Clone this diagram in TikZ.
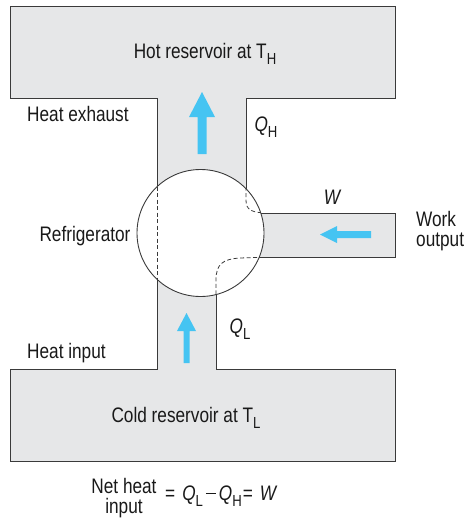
\documentclass[tikz,border=0pt]{standalone}
\usepackage{fontspec}
\setmainfont{Liberation Sans}[FakeStretch=0.82]
\definecolor{boxgray}{HTML}{E6E7E8}
\definecolor{linegray}{HTML}{3A3A3A}
\definecolor{flowblue}{HTML}{45C4F2}
\newcommand\lsub[1]{\raisebox{-0.28em}{\fontsize{16}{16}\selectfont #1}}
\begin{document}
\begin{tikzpicture}[x=1pt,y=-1pt,
  outl/.style={draw=linegray, line width=0.9pt},
  hid/.style={draw=linegray, line width=0.8pt, dash pattern=on 4pt off 2.5pt},
  flow/.style={fill=flowblue},
  lbl/.style={font=\fontsize{21}{19.5}\selectfont, inner sep=0pt, text=black!90}]
\useasboundingbox (0,0) rectangle (469,520);
% gray body
\fill[boxgray] (10,6) rectangle (395,98);
\fill[boxgray] (157,98) rectangle (246,233);
\fill[boxgray] (200,213) rectangle (395,257);
\fill[boxgray] (157,233) rectangle (216,369);
\fill[boxgray] (10,369) rectangle (395,461);
% outlines
\draw[outl] (157,233) -- (157,98) -- (10,98) -- (10,6) -- (395,6) -- (395,98) -- (246,98) -- (246,200);
\draw[outl] (230,213) -- (395,213) -- (395,257) -- (230,257);
\draw[outl] (216,270) -- (216,369) -- (395,369) -- (395,461) -- (10,461) -- (10,369) -- (157,369) -- (157,233);
% refrigerator circle
\coordinate (c) at (200.5,233);
\fill[white] (c) circle (63.5);
\begin{scope}
\clip (c) circle (63.5);
\draw[hid] (157,180) -- (157,290);
\draw[hid] (246,180) -- (246,200) .. controls (246,210) and (251,213) .. (270,213);
\draw[hid] (270,257) -- (240,258) .. controls (223,259) and (216,264) .. (216,280) -- (216,300);
\end{scope}
\draw[outl] (c) circle (63.5);
% flow arrows
\fill[flowblue] (197.5,154) -- (197.5,117) -- (189,117) -- (202,92) -- (215,117) -- (206.5,117) -- (206.5,154) -- cycle;
\fill[flowblue] (183.5,363) -- (183.5,331) -- (177,331) -- (186.5,313) -- (196,331) -- (189.5,331) -- (189.5,363) -- cycle;
\fill[flowblue] (371,231) -- (337,231) -- (337,226) -- (320,234.5) -- (337,243) -- (337,238) -- (371,238) -- cycle;
% labels
\node[lbl] (hot) at (205,54) {Hot reservoir at T\lsub{H}};
\node[lbl, anchor=west] (exh) at (27,114) {Heat exhaust};
\node[lbl] (qh) at (266,127) {\itshape Q\upshape\lsub{H}};
\node[lbl] (ref) at (85,236) {Refrigerator};
\node[lbl] (w) at (332,197) {\itshape W};
\node[lbl, anchor=west, align=left] (wo) at (416,231) {Work\\output};
\node[lbl] (ql) at (240,329) {\itshape Q\upshape\lsub{L}};
\node[lbl, anchor=west] (hin) at (27,353) {Heat input};
\node[lbl] (cold) at (186,418) {Cold reservoir at T\lsub{L}};
\node[lbl, align=center] (net) at (124,498) {Net heat\\input};
\node[lbl, anchor=west] (eq) at (165,496) {=\hspace{7pt}\itshape Q\upshape\lsub{L}\hspace{3pt}\rule[0.3em]{10pt}{1.4pt}\hspace{3pt}\itshape Q\upshape\lsub{H}\hspace{1pt}=\hspace{7pt}\itshape W};
\end{tikzpicture}
\end{document}
